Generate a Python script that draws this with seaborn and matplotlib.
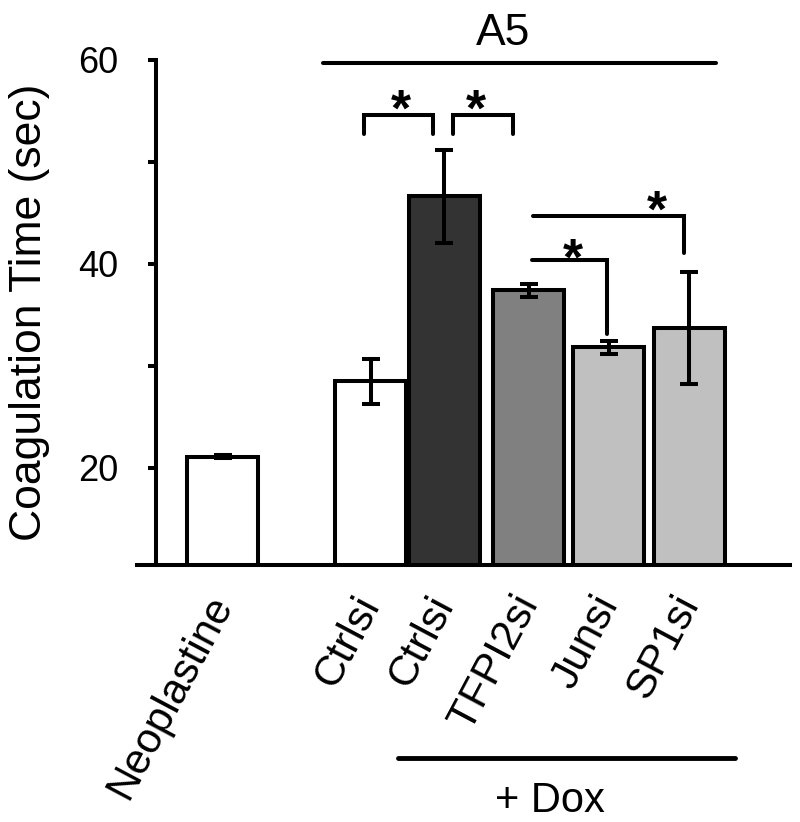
import matplotlib
matplotlib.use('Agg')
import matplotlib.pyplot as plt
import seaborn as sns
import pandas as pd

# ---- data ----
groups = ['Neoplastine', 'Ctrlsi', 'Ctrlsi + Dox', 'TFPI2si + Dox', 'Junsi + Dox', 'SP1si + Dox']
tick_labels = ['Neoplastine', 'Ctrlsi', 'Ctrlsi', 'TFPI2si', 'Junsi', 'SP1si']
coag_time = [21.1, 28.5, 46.6, 37.4, 31.8, 33.7]
coag_err = [0.15, 2.2, 4.55, 0.62, 0.67, 5.5]
y_ticks = [20, 30, 40, 50, 60]
y_tick_labels = ['20', '', '40', '', '60']

# ---- layout / style ----
bar_pos = [0, 2, 3, 4.14, 5.22, 6.31]
bar_colors = ['#ffffff', '#ffffff', '#333333', '#808080', '#c0c0c0', '#c0c0c0']
LW = 2.9

sns.set_style('ticks')
plt.rcParams['font.family'] = ['Liberation Sans', 'DejaVu Sans']
plt.rcParams['text.color'] = 'black'
plt.rcParams['axes.labelcolor'] = 'black'
plt.rcParams['xtick.color'] = 'black'
plt.rcParams['ytick.color'] = 'black'

fig = plt.figure(figsize=(8, 8.22), dpi=100)
ax = fig.add_axes([0.1709, 0.3127, 0.8166, 0.6149])

df = pd.DataFrame({'group': groups, 'pos': bar_pos, 'time': coag_time})
sns.barplot(data=df, x='pos', y='time', hue='group',
            palette=dict(zip(groups, bar_colors)), native_scale=True,
            width=0.96, edgecolor='black', linewidth=LW, saturation=1,
            legend=False, errorbar=None, dodge=False, ax=ax, zorder=2)
ax.errorbar(bar_pos, coag_time, yerr=coag_err, fmt='none', ecolor='black',
            elinewidth=LW, capsize=6.5, capthick=LW, zorder=5)

ax.set_xlim(-1.16, 7.67)
ax.set_ylim(10.5, 60)

for s in ['top', 'right']:
    ax.spines[s].set_visible(False)
ax.spines['left'].set_position(('data', -0.9))
ax.spines['left'].set_linewidth(LW)
ax.spines['bottom'].set_linewidth(LW)
ax.spines['left'].set_color('black')
ax.spines['bottom'].set_color('black')

ax.set_yticks(y_ticks)
ax.set_yticklabels(y_tick_labels, fontsize=26, color='black')
ax.tick_params(axis='y', length=6, width=LW, pad=21, color='black', direction='out')
ax.set_xticks(bar_pos)
ax.set_xticklabels(tick_labels, fontsize=30.5, rotation=62, ha='right',
                   va='center', rotation_mode='anchor', color='black')
ax.tick_params(axis='x', length=0, pad=24)

ax.set_xlabel('')
ax.set_ylabel('Coagulation Time (sec)', fontsize=32, color='black')
ax.yaxis.set_label_coords(-0.133, 0.5)

# ---- annotations ----
line_kw = dict(color='black', lw=LW, clip_on=False, solid_joinstyle='miter', zorder=6)
star_kw = dict(fontsize=37, fontweight='bold', ha='center', va='baseline', color='black')

# A5 group line
ax.plot([1.358, 6.67], [59.69, 59.69], **line_kw)
ax.text(3.79, 61.42, 'A5', fontsize=32, ha='center', va='baseline', color='black')

# top brackets
ax.plot([1.909, 1.909, 2.841, 2.841], [52.73, 54.57, 54.57, 52.73], **line_kw)
ax.plot([3.111, 3.111, 3.922, 3.922], [52.73, 54.57, 54.57, 52.73], **line_kw)
ax.text(2.416, 53.5, '*', **star_kw)
ax.text(3.423, 53.5, '*', **star_kw)

# TFPI2si vs Junsi
ax.plot([4.18, 5.19, 5.19], [40.39, 40.39, 33.08], **line_kw)
ax.text(4.74, 38.97, '*', **star_kw)
# TFPI2si vs SP1si
ax.plot([4.2, 6.24, 6.24], [44.64, 44.64, 41.07], **line_kw)
ax.text(5.87, 43.63, '*', **star_kw)

# + Dox
ax.plot([2.37, 6.93], [-8.38, -8.38], color='black', lw=3.5, clip_on=False)
ax.text(4.42, -13.67, '+ Dox', fontsize=30, ha='center', va='baseline', color='black')

fig.savefig('out.png', dpi=100)
